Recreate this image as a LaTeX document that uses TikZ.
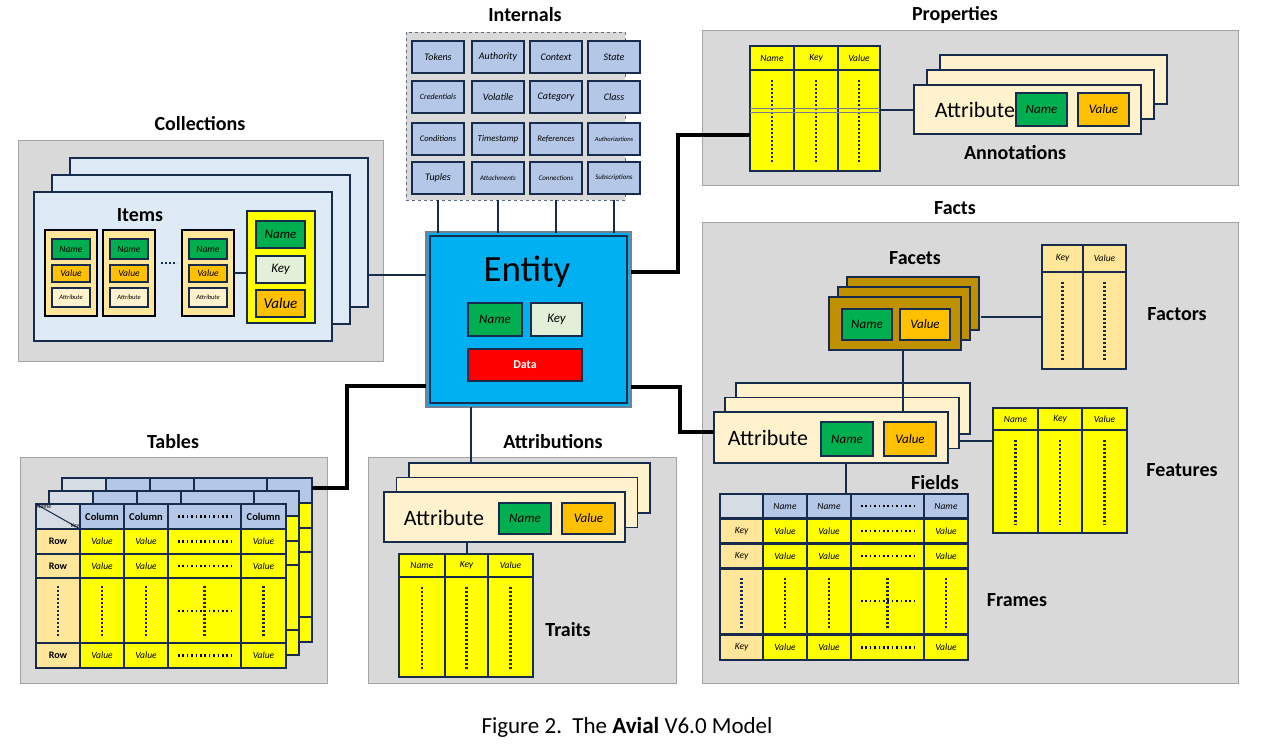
\documentclass[tikz,border=0pt]{standalone}
\usepackage{fontspec}
\setmainfont{Carlito}
\usetikzlibrary{calc, positioning}

\definecolor{navy}{HTML}{172B4D}
\definecolor{pgray}{HTML}{D9D9D9}
\definecolor{cardblue}{HTML}{DEEBF7}
\definecolor{cellblue}{HTML}{B4C7E7}
\definecolor{entblue}{HTML}{00B0F0}
\definecolor{ngreen}{HTML}{00B050}
\definecolor{vorange}{HTML}{FFC000}
\definecolor{keygreen}{HTML}{E2F0D9}
\definecolor{cream}{HTML}{FFF2CC}
\definecolor{tan}{HTML}{FFE699}
\definecolor{facet}{HTML}{BF9000}
\definecolor{yel}{HTML}{FFFF00}
\definecolor{hgray}{HTML}{D6DCE4}

\tikzset{
  box/.style={draw=navy, line width=1.8, inner sep=0pt, outer sep=0pt, align=center},
  panel/.style={fill=pgray, draw=pgray!75!black, line width=0.8},
  title/.style={font=\fontsize{20}{24}\selectfont\bfseries},
  cellt/.style={font=\fontsize{13}{14}\selectfont\itshape},
  tiny/.style={font=\fontsize{9.5}{10}\selectfont\itshape},
  link/.style={draw=navy, line width=2.6},
  blink/.style={draw=black, line width=4},
  vdots/.style={draw=navy, line width=2.2, dash pattern=on 1.6pt off 2.4pt},
  hdots/.style={draw=black, line width=2.2, dash pattern=on 1.6pt off 2.8pt},
}
% box from corners: [style]{name}{x1}{y1}{x2}{y2}{text}
\newcommand{\bx}[7][]{\node[box,#1,minimum width={((#5)-(#3))*1pt},minimum height={((#6)-(#4))*1pt}] (#2) at ({((#3)+(#5))/2},{((#4)+(#6))/2}) {#7};}
% narrow table: {name}{ytop}{ymid}{ybot}{fill}{xa/xb/head list}
\newcommand{\ntab}[6]{%
  \foreach \xa/\xb/\hd [count=\c] in {#6}{
    \bx[fill=#5,tiny]{#1h\c}{\xa}{#2}{\xb}{#3}{\hd}
    \bx[fill=#5]{#1b\c}{\xa}{#3}{\xb}{#4}{}
    \draw[vdots] ({(\xa+\xb)/2},#3+10) -- ({(\xa+\xb)/2},#4-8);
  }}
% text only on the front table
\newcommand{\fronttx}[1]{\ifnum\o=0 #1\fi}

\begin{document}
\begin{tikzpicture}[x=1pt,y=-1pt]
\useasboundingbox (0,0) rectangle (1262,747);

% Panels
\fill[white] (0,0) rectangle (1262,747);
\draw[panel] (18,140) rectangle (383,361);
\draw[panel] (702,30) rectangle (1238,185);
\draw[panel] (702,222) rectangle (1238,683);
\draw[panel] (20,457) rectangle (327,683);
\draw[panel] (368,457) rectangle (676,683);
\draw[panel, draw=navy!70, dashed] (406,32) rectangle (625,200);

% Titles
\node[title] (tint) at (525,15) {Internals};
\node[title] (tprop) at (955,15) {Properties};
\node[title] (tcol) at (200,124) {Collections};
\node[title] (tfacts) at (955,208) {Facts};
\node[title] (ttab) at (173,442) {Tables};
\node[title] (tattr) at (553,442) {Attributions};

% Internals
\foreach \t/\fs [count=\i from 0] in {Tokens/10,Authority/10,Context/10,State/10,Credentials/8,Volatile/10,Category/10,Class/10,
    Conditions/8.5,Timestamp/9,References/8.5,Authorizations/6.5,Tuples/10,Attachments/7,Connections/7,Subscriptions/7}{
  \pgfmathtruncatemacro{\cc}{mod(\i,4)}
  \pgfmathtruncatemacro{\rr}{div(\i,4)}
  \pgfmathsetmacro{\xc}{{438,498,556,614}[\cc]}
  \pgfmathsetmacro{\yc}{{57,97,139,178}[\rr]}
  \bx[fill=cellblue,font=\fontsize{\fs}{10}\selectfont\itshape]{int\i}{\xc-26}{\yc-16}{\xc+26}{\yc+16}{\t}
}

% Entity
\node[box, fill=entblue, draw=navy!60, line width=1.2, minimum width=205pt, minimum height=175pt] (entity) at (528.5,319.5) {};
\draw[navy, line width=1.6] ($(entity.north west)+(4,4)$) rectangle ($(entity.south east)+(-4,-4)$);
\node[font=\fontsize{37}{40}\selectfont] (entlabel) at (527,272) {Entity};
\bx[fill=ngreen,cellt]{ename}{468}{303}{522}{336}{Name}
\bx[fill=keygreen,cellt]{ekey}{531}{303}{582}{336}{Key}
\bx[fill=red,font=\fontsize{12}{13}\selectfont\bfseries,text=white]{edata}{468}{349}{582}{381}{Data}
\foreach \x in {438,498,556,614}{\draw[link] (\x,200) -- (\x,233);}

% Collections
\foreach \k in {2,1,0}{
  \bx[fill=cardblue]{col\k}{34+18*\k}{192-17*\k}{332+18*\k}{341-17*\k}{}
}
\node[title] (titems) at (140,215) {Items};
\foreach \xa [count=\i] in {45,103,182}{
  \bx[fill=tan,draw=black]{item\i}{\xa}{230}{\xa+52}{316}{}
  \bx[fill=ngreen,tiny]{item\i n}{\xa+7}{239}{\xa+45}{259}{Name}
  \bx[fill=vorange,tiny]{item\i v}{\xa+7}{265}{\xa+45}{282}{Value}
  \bx[fill=cream,font=\fontsize{6.5}{7}\selectfont\itshape]{item\i a}{\xa+7}{288}{\xa+45}{307}{Attribute}
}
\draw[vdots] (161,263) -- (177,263);
\bx[fill=yel]{kv}{247}{211}{315}{323}{}
\bx[fill=ngreen,cellt]{kvn}{256}{221}{305}{248}{Name}
\bx[fill=keygreen,cellt]{kvk}{256}{256}{305}{283}{Key}
\bx[fill=vorange,font=\fontsize{15}{16}\selectfont\itshape]{kvv}{256}{290}{305}{317}{Value}
\draw[link] (item3.east) -- (item3.east -| kv.west);
\coordinate (cin) at (367,275);
\draw[link] (cin) -- (cin -| entity.west);

% Properties
\ntab{pr}{46}{70}{171}{yel}{750/794/Name,794/838/Key,838/880/Value}
\draw[navy!60, line width=0.8] (750,108) -- (880,108) (750,112) -- (880,112);
\foreach \k in {2,1,0}{
  \bx[fill=cream]{ann\k}{914+13*\k}{85-15*\k}{1141+13*\k}{134-15*\k}{}
}
\node[font=\fontsize{22}{24}\selectfont] (annlab) at (975,110) {Attribute};
\bx[fill=ngreen,cellt]{annn}{1016}{93}{1067}{126}{Name}
\bx[fill=vorange,cellt]{annv}{1078}{93}{1129}{126}{Value}
\node[title] (tann) at (1015,153) {Annotations};
\draw[link] (880,110) -- (ann0.west |- 880,110);
\draw[blink] (entity.east |- 0,272) -- (678,272) -- (678,135) -- (prb1.west |- 0,135);

% Facts: facets and factors
\node[title] (tfacets) at (915,258) {Facets};
\foreach \k in {2,1,0}{
  \bx[fill=facet]{fac\k}{829+9*\k}{297-10*\k}{961+9*\k}{350-10*\k}{}
}
\bx[fill=ngreen,cellt]{facn}{842}{309}{892}{340}{Name}
\bx[fill=vorange,cellt]{facv}{900}{309}{950}{340}{Value}
\ntab{fa}{245}{272}{369}{tan}{1042/1083/Key,1083/1126/Value}
\node[title] (tfactors) at (1177,314) {Factors};
\draw[link] (981,317) -- (fab1.west |- 0,317);

% Facts: attribute, features, fields
\draw[link] (903,350) -- (903,412);
\foreach \k in {2,1,0}{
  \bx[fill=cream]{fat\k}{714+11*\k}{412-14.5*\k}{948+11*\k}{463-14.5*\k}{}
}
\draw[link] (903,383) -- (903,412);
\node[font=\fontsize{22}{24}\selectfont] (fatlab) at (768,438) {Attribute};
\bx[fill=ngreen,cellt]{fatn}{821}{422}{873}{456}{Name}
\bx[fill=vorange,cellt]{fatv}{884}{422}{936}{456}{Value}
\draw[blink] (entity.east |- 0,387) -- (680,387) -- (680,432) -- (fat0.west |- 0,432);
\ntab{fe}{408}{430}{533}{yel}{993/1038/Name,1038/1082/Key,1082/1127/Value}
\draw[link] (959,441) -- (993,441);
\node[title] (tfeat) at (1182,470) {Features};
\node[title] (tfields) at (935,483) {Fields};
\node[title] (tframes) at (1017,600) {Frames};

% Frames grid
\bx[fill=hgray]{frh0}{720}{494}{763}{518}{}
\foreach \xa/\xb/\t [count=\c] in {763/807/Name,807/851/Name,851/924/,924/968/Name}{
  \bx[fill=cellblue,tiny]{frh\c}{\xa}{494}{\xb}{518}{\t}
}
\draw[hdots] (861,506) -- (914,506);
\foreach \ya/\yb [count=\r] in {519/543,544/568,635/660}{
  \bx[fill=tan,tiny]{fr\r k}{720}{\ya}{763}{\yb}{Key}
  \foreach \xa/\xb/\t [count=\c] in {763/807/Value,807/851/Value,851/924/,924/968/Value}{
    \bx[fill=yel,tiny]{fr\r-\c}{\xa}{\ya}{\xb}{\yb}{\t}
  }
  \draw[hdots] (861,{(\ya+\yb)/2}) -- (914,{(\ya+\yb)/2});
}
\bx[fill=tan]{frdk}{720}{569}{763}{634}{}
\foreach \xa/\xb [count=\c] in {763/807,807/851,851/924,924/968}{
  \bx[fill=yel]{frd\c}{\xa}{569}{\xb}{634}{}
  \draw[vdots] ({(\xa+\xb)/2},578) -- ({(\xa+\xb)/2},628);
}
\draw[vdots] (741.5,578) -- (741.5,628);
\draw[hdots] (861,601) -- (914,601);
\draw[link] (fat0.south -| 846,0) -- (846,494);

% Tables
\foreach \o in {26,13,0}{
\begin{scope}[shift={(\o,-\o)}]
  \bx[fill=hgray]{tb\o h0}{36}{504}{80}{529}{}
  \foreach \xa/\xb/\t [count=\c] in {80/124/Column,124/168/Column,168/241/,241/286/Column}{
    \bx[fill=cellblue,font=\fontsize{10.5}{11}\selectfont\bfseries]{tb\o h\c}{\xa}{504}{\xb}{529}{\fronttx{\t}}
  }
  \foreach \ya/\yb [count=\r] in {529/554,554/578,643/668}{
    \bx[fill=tan,font=\fontsize{10}{11}\selectfont\bfseries]{tb\o r\r}{36}{\ya}{80}{\yb}{\fronttx{Row}}
    \foreach \xa/\xb/\t [count=\c] in {80/124/Value,124/168/Value,168/241/,241/286/Value}{
      \bx[fill=yel,tiny]{tb\o r\r-\c}{\xa}{\ya}{\xb}{\yb}{\fronttx{\t}}
    }
  }
  \bx[fill=tan]{tb\o d0}{36}{578}{80}{643}{}
  \foreach \xa/\xb [count=\c] in {80/124,124/168,168/241,241/286}{
    \bx[fill=yel]{tb\o d\c}{\xa}{578}{\xb}{643}{}
  }
\end{scope}}
\foreach \ya/\yb in {504/529,529/554,554/578,643/668}{\draw[hdots] (178,{(\ya+\yb)/2}) -- (231,{(\ya+\yb)/2});}
\foreach \x in {58,102,146,204.5,263.5}{\draw[vdots] (\x,586) -- (\x,637);}
\draw[hdots] (178,611) -- (231,611);
\draw[navy, line width=1] (tb0h0.north west) -- (tb0h0.south east);
\node[font=\fontsize{6}{7}\selectfont\itshape, anchor=north west, inner sep=0.5pt] (nk1) at (tb0h0.north west) {Name};
\node[font=\fontsize{6}{7}\selectfont\itshape, anchor=south east, inner sep=0.5pt] (nk2) at (tb0h0.south east) {Key};
\draw[blink] (tb26h4.east |- 0,488) -- (347,488) -- (347,386) -- (entity.west |- 0,386);

% Attributions
\draw[link] (entity.south -| 471,0) -- (471,463);
\foreach \k in {2,1,0}{
  \bx[fill=cream]{atr\k}{384+12.5*\k}{492-14.5*\k}{625+12.5*\k}{542-14.5*\k}{}
}
\node[font=\fontsize{22}{24}\selectfont] (atrlab) at (444,518) {Attribute};
\bx[fill=ngreen,cellt]{atrn}{499}{503}{551}{534}{Name}
\bx[fill=vorange,cellt]{atrv}{562}{503}{615}{534}{Value}
\ntab{tr}{554}{577}{677}{yel}{399/445/Name,445/488/Key,488/533/Value}
\draw[link] (467,542) -- (467,554);
\node[title] (ttraits) at (568,630) {Traits};

% Caption
\node[font=\fontsize{23}{26}\selectfont] (cap) at (627,727) {Figure 2.\ \ The \textbf{Avial} V6.0 Model};
\end{tikzpicture}
\end{document}
